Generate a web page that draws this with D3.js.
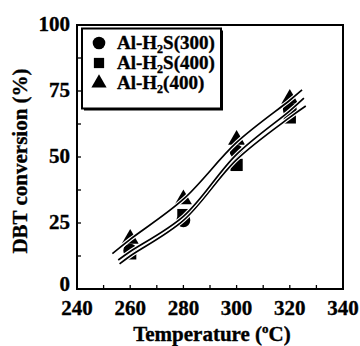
<!DOCTYPE html>
<html><head><meta charset="utf-8">
<script src="https://cdn.jsdelivr.net/npm/d3@7"></script>
<style>html,body{margin:0;padding:0;background:#fff;}svg{display:block;}
text{stroke:#000;stroke-width:0.35px;}</style>
</head><body>
<svg id="c" width="360" height="346"></svg>
<script>
// ---- data ----
const temps = [260, 280, 300, 320];
const alH2S300 = [14.5, 26, 52, 68];
const alH2S400 = [13.5, 28, 47, 65];
const alH2400 = [19, 34, 56.5, 72];
// fitted curves
const fitH2400T = [253.3, 260, 280, 300, 320, 324.6];
const fitH2400V = [13.4, 18.8, 34, 55.5, 71.5, 75.4];
const fitH2S300T = [255.5, 260, 280, 300, 320, 325.3];
const fitH2S300V = [11, 14.2, 27.5, 51, 67.5, 72.3];
const fitH2S400T = [256, 260, 280, 300, 320, 326];
const fitH2S400V = [9.5, 12.5, 26, 49, 65, 69.3];
const xTicks = [240, 260, 280, 300, 320, 340];
const xMinor = [250, 270, 290, 310, 330];
const yTicks = [0, 25, 50, 75, 100];
const yMinor = [12.5, 37.5, 62.5, 87.5];
const legendLabels = [["Al-H", "2", "S(300)"], ["Al-H", "2", "S(400)"], ["Al-H", "2", "(400)"]];

const svg = d3.select("#c");
const L = 77, R = 343, T = 25, B = 289;
const x = d3.scaleLinear().domain([240, 340]).range([L, R]);
const y = d3.scaleLinear().domain([0, 100]).range([B, T]);
const font = "'Liberation Serif', 'Times New Roman', serif";

// ticks (inward)
const g = svg.append("g");
g.selectAll(".xt").data(xTicks.concat(xMinor)).join("line")
  .attr("x1", d => x(d)).attr("x2", d => x(d)).attr("y1", B).attr("y2", B - 4)
  .attr("stroke", "#000").attr("stroke-width", 1.3);
g.selectAll(".yt").data(yTicks.concat(yMinor)).join("line")
  .attr("y1", d => y(d)).attr("y2", d => y(d)).attr("x1", L).attr("x2", L + 4)
  .attr("stroke", "#000").attr("stroke-width", 1.3);

// tick labels
g.selectAll(".xl").data(xTicks).join("text")
  .attr("x", d => x(d)).attr("y", 315).attr("text-anchor", "middle")
  .attr("font-family", font).attr("font-weight", "bold").attr("font-size", 21)
  .text(d => d);
g.selectAll(".yl").data(yTicks).join("text")
  .attr("x", 70).attr("y", d => d === 0 ? y(d) + 2 : y(d) + 6).attr("text-anchor", "end")
  .attr("font-family", font).attr("font-weight", "bold").attr("font-size", 21)
  .text(d => d);

// axis titles
const xt = svg.append("text").attr("x", 212).attr("y", 341).attr("text-anchor", "middle")
  .attr("font-family", font).attr("font-weight", "bold").attr("font-size", 21);
xt.append("tspan").text("Temperature (");
xt.append("tspan").text("o").attr("font-size", 13).attr("dy", -8);
xt.append("tspan").text("C)").attr("dy", 8);
svg.append("text").attr("transform", "translate(27,161) rotate(-90)").attr("text-anchor", "middle")
  .attr("font-family", font).attr("font-weight", "bold").attr("font-size", 21)
  .text("DBT conversion (%)");

// markers
const sym = {
  circle: d3.symbol().type(d3.symbolCircle).size(150),
  square: d3.symbol().type(d3.symbolSquare).size(150),
  triangle: d3.symbol().type(d3.symbolTriangle).size(125)
};
const series = [
  {vals: alH2S400, s: "square"},
  {vals: alH2S300, s: "circle"},
  {vals: alH2400, s: "triangle"}
];
series.forEach(se => {
  svg.append("g").selectAll("path").data(temps).join("path")
    .attr("d", sym[se.s]())
    .attr("transform", (d, i) => `translate(${x(d)},${y(se.vals[i])})`)
    .attr("fill", "#000");
});

// fitted lines with white halo
const line = d3.line().x(d => x(d[0])).y(d => y(d[1])).curve(d3.curveCatmullRom.alpha(0.5));
const fits = [
  [fitH2S400T, fitH2S400V],
  [fitH2S300T, fitH2S300V],
  [fitH2400T, fitH2400V]
];
fits.forEach(f => {
  const pts = f[0].map((t, i) => [t, f[1][i]]);
  svg.append("path").attr("d", line(pts)).attr("fill", "none")
    .attr("stroke", "#fff").attr("stroke-width", 4);
  svg.append("path").attr("d", line(pts)).attr("fill", "none")
    .attr("stroke", "#000").attr("stroke-width", 1.7);
});

// frame
svg.append("rect").attr("x", L).attr("y", T).attr("width", R - L).attr("height", B - T)
  .attr("fill", "none").attr("stroke", "#000").attr("stroke-width", 2);

// legend
const lg = svg.append("g");
lg.append("rect").attr("x", 84).attr("y", 30.5).attr("width", 139).attr("height", 80).attr("fill", "#000");
lg.append("rect").attr("x", 82).attr("y", 28.5).attr("width", 139).attr("height", 80)
  .attr("fill", "#fff").attr("stroke", "#000").attr("stroke-width", 2);
const legSyms = ["circle", "square", "triangle"];
const legSize = {circle: 125, square: 105, triangle: 100};
legendLabels.forEach((lab, i) => {
  const yy = 43 + i * 20;
  lg.append("path").attr("d", d3.symbol().type(
      legSyms[i] === "circle" ? d3.symbolCircle : legSyms[i] === "square" ? d3.symbolSquare : d3.symbolTriangle
    ).size(legSize[legSyms[i]])())
    .attr("transform", `translate(99,${yy})`).attr("fill", "#000");
  const t = lg.append("text").attr("x", 117).attr("y", yy + 6)
    .attr("font-family", font).attr("font-weight", "bold").attr("font-size", 19);
  t.append("tspan").text(lab[0]);
  t.append("tspan").text(lab[1]).attr("font-size", 12).attr("dy", 4);
  t.append("tspan").text(lab[2]).attr("dy", -4);
});
</script>
</body></html>
